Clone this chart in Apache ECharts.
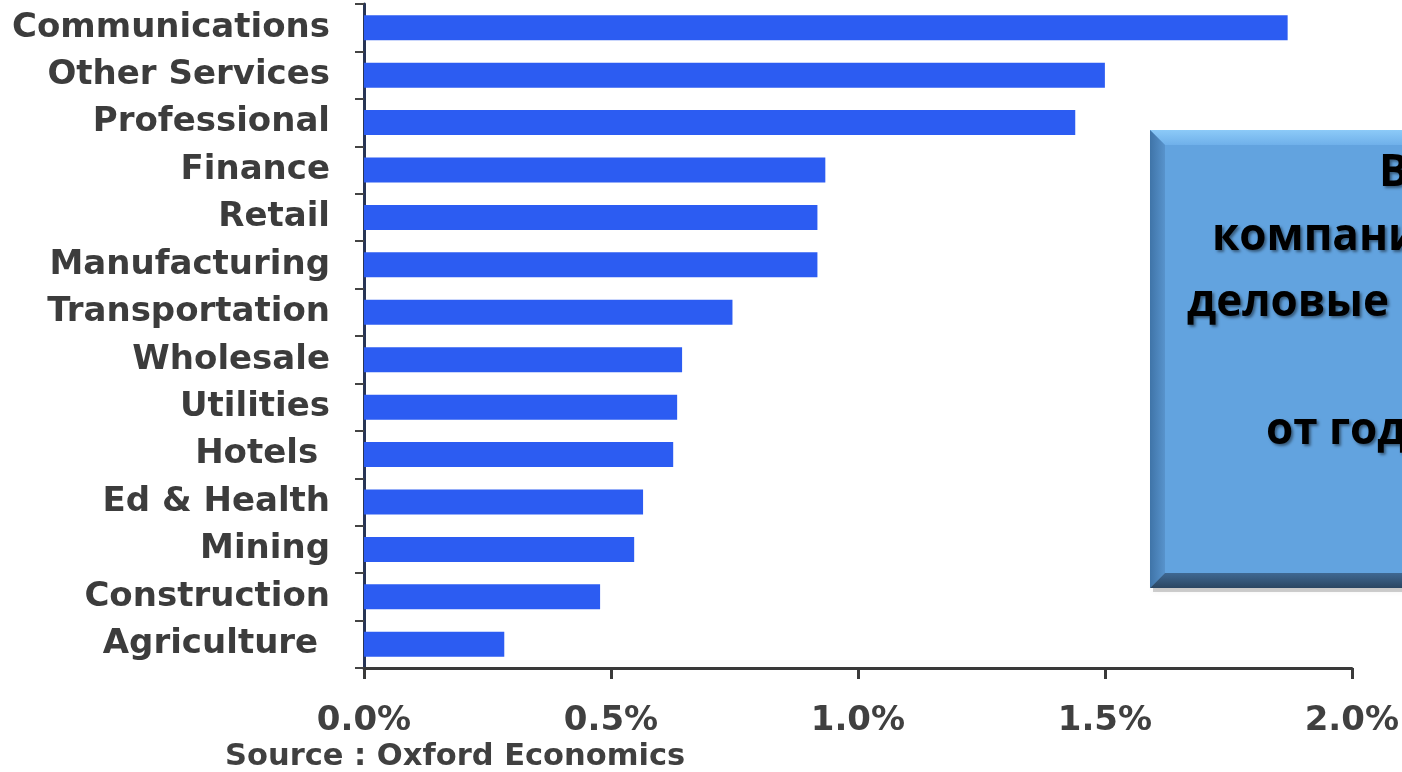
<!DOCTYPE html>
<html>
<head>
<meta charset="utf-8">
<script src="https://cdn.jsdelivr.net/npm/echarts@6/dist/echarts.min.js"></script>
<style>
  html, body { margin: 0; padding: 0; background: #ffffff; }
  #chart { width: 1402px; height: 772px; }
</style>
</head>
<body>
<div id="chart"></div>
<script>
// Sectors, top to bottom
const categories = [
  'Communications', 'Other Services', 'Professional', 'Finance', 'Retail',
  'Manufacturing', 'Transportation', 'Wholesale', 'Utilities', 'Hotels ',
  'Ed & Health', 'Mining', 'Construction', 'Agriculture '
];
// Contribution, percent
const values = [
  1.87, 1.50, 1.44, 0.934, 0.918,
  0.918, 0.746, 0.644, 0.634, 0.626,
  0.565, 0.547, 0.478, 0.284
];
const xTicks = [0, 0.5, 1.0, 1.5, 2.0];
const sourceNote = 'Source : Oxford Economics';
const boxLines = ['В', 'компании', 'деловые', '', 'от года'];

const chart = echarts.init(document.getElementById('chart'), null, { renderer: 'canvas' });

const labelFont = 'DejaVu Sans';
const boxX = 1150, boxY = 130, boxW = 320, boxH = 458, bev = 15;

// Bevelled call-out panel
const boxChildren = [
  { type: 'rect', shape: { x: boxX + 3, y: boxY + 4, width: boxW, height: boxH },
    style: { fill: 'rgba(0,0,0,0.18)', shadowBlur: 6, shadowColor: 'rgba(0,0,0,0.25)' } },
  { type: 'rect', shape: { x: boxX, y: boxY, width: boxW, height: boxH }, style: { fill: '#62a3df' } },
  { type: 'polygon', shape: { points: [[boxX, boxY], [boxX + boxW, boxY], [boxX + boxW, boxY + bev], [boxX + bev, boxY + bev]] },
    style: { fill: new echarts.graphic.LinearGradient(0, 0, 0, 1, [{ offset: 0, color: '#8ccaf8' }, { offset: 1, color: '#6fb0ea' }]) } },
  { type: 'polygon', shape: { points: [[boxX, boxY], [boxX + bev, boxY + bev], [boxX + bev, boxY + boxH - bev], [boxX, boxY + boxH]] },
    style: { fill: new echarts.graphic.LinearGradient(0, 0, 1, 0, [{ offset: 0, color: '#3f74a8' }, { offset: 1, color: '#5893cc' }]) } },
  { type: 'polygon', shape: { points: [[boxX, boxY + boxH], [boxX + bev, boxY + boxH - bev], [boxX + boxW, boxY + boxH - bev], [boxX + boxW, boxY + boxH]] },
    style: { fill: new echarts.graphic.LinearGradient(0, 0, 0, 1, [{ offset: 0, color: '#3f6892' }, { offset: 1, color: '#2a4662' }]) } }
];
const lineX = [1379, 1212, 1187, 1187, 1266];
const lineY = [173, 237, 303, 367, 431];
boxLines.forEach((t, i) => {
  if (!t) return;
  boxChildren.push({
    type: 'text',
    style: {
      text: t, x: lineX[i], y: lineY[i],
      textAlign: 'left', textVerticalAlign: 'middle',
      fontFamily: '"Open Sans"', fontWeight: 'bold', fontSize: 44,
      fill: '#000000',
      textShadowColor: 'rgba(0,0,0,0.45)', textShadowBlur: 3,
      textShadowOffsetX: 2, textShadowOffsetY: 2
    }
  });
});

const option = {
  animation: false,
  backgroundColor: '#ffffff',
  grid: { left: 364, right: 50, top: 4, bottom: 104, containLabel: false },
  xAxis: {
    type: 'value',
    min: 0, max: 2, interval: 0.5,
    axisLine: { show: true, lineStyle: { color: '#3a3a3a', width: 3 } },
    axisTick: { show: true, length: 11, lineStyle: { color: '#3a3a3a', width: 3 } },
    splitLine: { show: false },
    axisLabel: {
      margin: 36,
      fontFamily: labelFont, fontWeight: 'bold', fontSize: 34, color: '#404040',
      formatter: v => (xTicks.indexOf(v) >= 0 ? v.toFixed(1) + '%' : '')
    }
  },
  yAxis: {
    type: 'category',
    data: categories,
    inverse: true,
    axisLine: { show: true, lineStyle: { color: '#283556', width: 3 } },
    axisTick: { show: true, length: 9, lineStyle: { color: '#444444', width: 2 } },
    axisLabel: {
      margin: 34,
      fontFamily: labelFont, fontWeight: 'bold', fontSize: 34, color: '#3c3c3c'
    }
  },
  series: [{
    type: 'bar',
    data: values,
    barWidth: 25,
    itemStyle: { color: '#2c5cf2' },
    z: 1
  }],
  graphic: [
    {
      type: 'text', left: 225, top: 742,
      style: { text: sourceNote, fontFamily: labelFont, fontWeight: 'bold', fontSize: 30.5, fill: '#404040' }
    },
    { type: 'group', z: 100, children: boxChildren }
  ]
};

chart.setOption(option);
</script>
</body>
</html>
